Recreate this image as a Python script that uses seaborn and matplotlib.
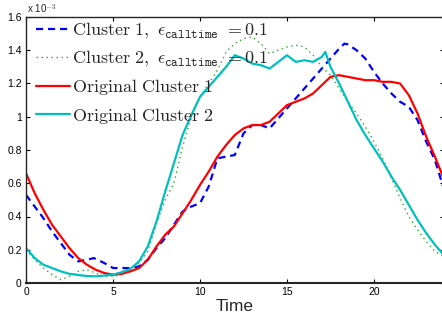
import numpy as np
import matplotlib
matplotlib.use('Agg')
import matplotlib.pyplot as plt
import seaborn as sns
from matplotlib.ticker import FuncFormatter

# values in units of 1e-3
t_red = [0, 0.5, 1, 1.5, 2, 2.5, 3, 3.5, 4, 4.5, 5, 5.5, 6, 6.5, 7, 7.5, 8, 8.5, 9, 9.5,
         10, 10.5, 11, 11.5, 12, 12.5, 13, 13.5, 14, 14.5, 15, 15.5, 16, 16.5, 17, 17.5,
         18, 18.5, 19, 19.5, 20, 20.5, 21, 21.5, 22, 22.5, 23, 23.5, 24]
orig_c1 = [0.66, 0.54, 0.44, 0.35, 0.28, 0.21, 0.15, 0.11, 0.08, 0.06, 0.05, 0.055, 0.07, 0.09,
           0.14, 0.22, 0.29, 0.34, 0.42, 0.50, 0.59, 0.67, 0.76, 0.83, 0.89, 0.93, 0.95, 0.95,
           0.97, 1.02, 1.07, 1.09, 1.11, 1.14, 1.19, 1.24, 1.25, 1.24, 1.23, 1.22, 1.22, 1.21,
           1.21, 1.20, 1.13, 1.02, 0.88, 0.76, 0.63]

t_blue = [0, 0.5, 1, 1.5, 2, 2.5, 3, 3.5, 3.9, 4.5, 5, 5.5, 6, 6.5, 7, 7.5, 8, 8.5, 9, 9.5,
          10, 10.5, 11, 11.5, 12, 12.5, 13, 13.5, 14, 14.5, 15, 15.5, 16, 16.5, 17, 17.5,
          18, 18.3, 18.5, 19, 19.5, 20, 20.5, 21, 21.5, 22, 22.5, 23, 23.5, 24]
clus1 = [0.53, 0.46, 0.39, 0.31, 0.24, 0.17, 0.13, 0.14, 0.15, 0.12, 0.09, 0.09, 0.09, 0.10,
         0.14, 0.21, 0.27, 0.35, 0.43, 0.46, 0.48, 0.58, 0.75, 0.76, 0.77, 0.90, 0.95, 0.95,
         0.93, 0.99, 1.05, 1.11, 1.17, 1.23, 1.29, 1.35, 1.41, 1.44, 1.435, 1.40, 1.35, 1.27,
         1.20, 1.14, 1.09, 1.06, 0.98, 0.85, 0.74, 0.57]

t_cyan = [0, 0.5, 1, 1.5, 2, 2.5, 3, 3.5, 4, 4.5, 5, 5.5, 6, 6.5, 7, 7.5, 8, 8.5, 9, 9.5,
          10, 10.5, 11, 11.5, 12, 12.5, 13, 13.5, 14, 14.5, 15, 15.5, 16, 16.5, 17, 17.2,
          17.5, 18, 18.5, 19, 19.5, 20, 20.5, 21, 21.5, 22, 22.5, 23, 23.5, 24]
orig_c2 = [0.21, 0.15, 0.11, 0.09, 0.07, 0.055, 0.048, 0.042, 0.040, 0.045, 0.05, 0.065, 0.085,
           0.13, 0.22, 0.37, 0.55, 0.72, 0.89, 1.01, 1.12, 1.18, 1.24, 1.30, 1.37, 1.35, 1.32,
           1.31, 1.29, 1.33, 1.37, 1.33, 1.34, 1.33, 1.36, 1.39, 1.30, 1.20, 1.09, 0.98, 0.89,
           0.81, 0.73, 0.64, 0.56, 0.47, 0.38, 0.30, 0.23, 0.17]

t_green = [0, 0.5, 1, 1.5, 2, 2.5, 3, 3.5, 4, 4.5, 5, 5.5, 6, 6.5, 7, 7.5, 8, 8.5, 9, 9.5,
           10, 10.5, 11, 11.5, 12, 12.5, 13, 13.5, 14, 14.5, 15, 15.5, 16, 16.5, 17, 17.5,
           18, 18.5, 19, 19.5, 20, 20.5, 21, 21.5, 22, 22.5, 23, 23.5, 24]
clus2 = [0.20, 0.14, 0.09, 0.05, 0.02, 0.04, 0.07, 0.08, 0.06, 0.04, 0.04, 0.05, 0.08, 0.12,
         0.19, 0.36, 0.50, 0.60, 0.82, 1.00, 1.12, 1.20, 1.28, 1.39, 1.44, 1.47, 1.48, 1.44,
         1.38, 1.40, 1.42, 1.43, 1.42, 1.37, 1.30, 1.25, 1.17, 1.09, 1.02, 0.94, 0.85, 0.75,
         0.63, 0.51, 0.40, 0.32, 0.25, 0.19, 0.16]

labels = [r'$\mathrm{Cluster\ 1,}\ \epsilon_{\mathtt{calltime}}\ \mathrm{=}0.1$',
          r'$\mathrm{Cluster\ 2,}\ \epsilon_{\mathtt{calltime}}\ \mathrm{=}0.1$',
          r'$\mathrm{Original\ Cluster\ 1}$',
          r'$\mathrm{Original\ Cluster\ 2}$']

sns.set_style('ticks')
plt.rcParams['font.family'] = ['Liberation Sans', 'DejaVu Sans']
plt.rcParams['mathtext.fontset'] = 'cm'

fig = plt.figure(figsize=(4.42, 3.24), dpi=100)
ax = fig.add_axes([26/442, 41/324, 417.6/442, 266/324])

sns.lineplot(x=t_blue, y=clus1, ax=ax, color='#0000ff', lw=1.6,
             linestyle=(0, (3.2, 2.2)), label=labels[0])
sns.lineplot(x=t_green, y=clus2, ax=ax, color='#2ea82e', lw=1.0,
             linestyle=(0, (1, 2.6)), label=labels[1])
sns.lineplot(x=t_red, y=orig_c1, ax=ax, color='#ff0000', lw=1.6, label=labels[2])
sns.lineplot(x=t_cyan, y=orig_c2, ax=ax, color='#00bfbf', lw=1.6, label=labels[3])

ax.set_xlim(0, 24)
ax.set_ylim(0, 1.6)
ax.set_xticks([0, 5, 10, 15, 20])
ax.set_yticks(np.arange(0, 1.61, 0.2))
ax.yaxis.set_major_formatter(FuncFormatter(lambda v, p: '%g' % round(v, 2)))
ax.tick_params(direction='in', length=3, width=0.8, labelsize=7.5,
               top=True, right=True, pad=3, colors='black')
for s in ax.spines.values():
    s.set_visible(True)
    s.set_linewidth(1.0)
ax.spines['bottom'].set_linewidth(1.5)

ax.set_xlabel('Time', fontsize=12.5, labelpad=1)
ax.set_ylabel('')
fig.text(27/442, 1 - 9/324, r'x 10$^{-3}$', fontsize=7, va='center', ha='left')

ax.legend(loc='upper left', bbox_to_anchor=(6/417.6, 1), frameon=False, fontsize=13,
          handlelength=1.9, handletextpad=0.12, labelspacing=0.46,
          borderaxespad=0.05, borderpad=0.15)

fig.savefig('out.png', dpi=100)
